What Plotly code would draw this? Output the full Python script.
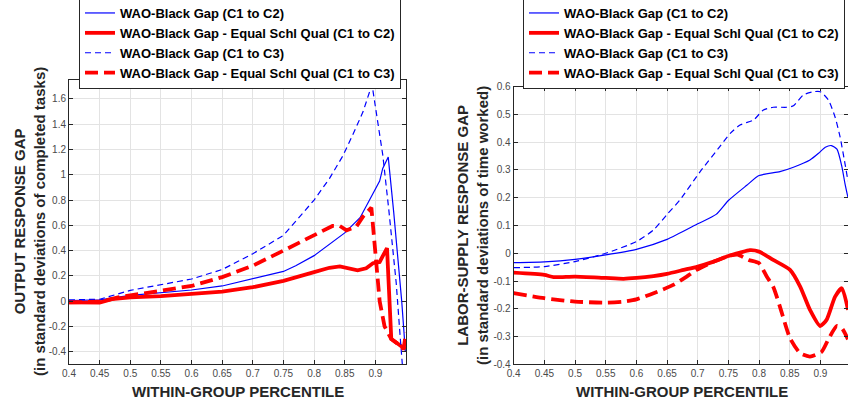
import plotly.graph_objects as go

# ---------------- data ----------------
names = ["WAO-Black Gap (C1 to C2)",
         "WAO-Black Gap - Equal Schl Qual (C1 to C2)",
         "WAO-Black Gap (C1 to C3)",
         "WAO-Black Gap - Equal Schl Qual (C1 to C3)"]

# Left panel: output response gap
out_c2_x = [0.40, 0.45, 0.50, 0.55, 0.60, 0.65, 0.70, 0.75, 0.77, 0.80, 0.85, 0.875, 0.897, 0.907, 0.912, 0.921, 0.930, 0.937, 0.943, 0.949]
out_c2_y = [0.005, 0.01, 0.045, 0.065, 0.088, 0.12, 0.175, 0.235, 0.28, 0.36, 0.54, 0.66, 0.86, 0.95, 1.05, 1.14, 0.70, 0.35, 0.0, -0.40]

out_eq_c2_x = [0.40, 0.43, 0.45, 0.47, 0.50, 0.55, 0.60, 0.65, 0.70, 0.75, 0.80, 0.825, 0.842, 0.855, 0.871, 0.885, 0.896, 0.907, 0.919, 0.926, 0.934, 0.942, 0.949]
out_eq_c2_y = [-0.01, -0.01, -0.012, 0.015, 0.03, 0.04, 0.055, 0.075, 0.11, 0.16, 0.23, 0.264, 0.275, 0.26, 0.243, 0.26, 0.30, 0.31, 0.42, -0.30, -0.33, -0.36, -0.38]

out_c3_x = [0.40, 0.45, 0.50, 0.55, 0.60, 0.65, 0.70, 0.75, 0.80, 0.825, 0.847, 0.8635, 0.88, 0.8945, 0.912, 0.922, 0.934, 0.940, 0.944]
out_c3_y = [0.01, 0.015, 0.085, 0.13, 0.175, 0.25, 0.375, 0.52, 0.80, 0.97, 1.15, 1.32, 1.50, 1.715, 1.16, 0.72, 0.145, -0.25, -0.50]

out_eq_c3_x = [0.40, 0.45, 0.48, 0.50, 0.55, 0.60, 0.65, 0.70, 0.75, 0.80, 0.83, 0.842, 0.853, 0.869, 0.88, 0.8935, 0.9016, 0.907, 0.915, 0.926, 0.94, 0.946, 0.95]
out_eq_c3_y = [-0.01, -0.005, 0.03, 0.045, 0.08, 0.12, 0.19, 0.28, 0.40, 0.52, 0.595, 0.595, 0.56, 0.59, 0.67, 0.74, 0.28, 0.0, -0.20, -0.30, -0.35, -0.38, -0.25]

# Right panel: labor-supply response gap
lab_c2_x = [0.40, 0.45, 0.50, 0.55, 0.60, 0.65, 0.70, 0.73, 0.75, 0.78, 0.80, 0.834, 0.856, 0.883, 0.897, 0.908, 0.918, 0.927, 0.935, 0.940, 0.945]
lab_c2_y = [-0.034, -0.031, -0.022, -0.006, 0.014, 0.05, 0.106, 0.14, 0.19, 0.245, 0.28, 0.294, 0.31, 0.336, 0.36, 0.382, 0.388, 0.375, 0.312, 0.252, 0.20]

lab_eq_c2_x = [0.40, 0.45, 0.465, 0.50, 0.55, 0.579, 0.60, 0.628, 0.65, 0.677, 0.70, 0.726, 0.75, 0.769, 0.785, 0.80, 0.823, 0.8505, 0.867, 0.883, 0.8995, 0.91, 0.924, 0.935, 0.945]
lab_eq_c2_y = [-0.07, -0.078, -0.086, -0.084, -0.089, -0.092, -0.089, -0.082, -0.074, -0.06, -0.048, -0.03, -0.01, 0.002, 0.011, 0.006, -0.024, -0.06, -0.12, -0.204, -0.262, -0.24, -0.156, -0.126, -0.204]

lab_c3_x = [0.40, 0.45, 0.50, 0.55, 0.60, 0.628, 0.65, 0.671, 0.704, 0.736, 0.753, 0.769, 0.791, 0.807, 0.823, 0.845, 0.856, 0.872, 0.889, 0.90, 0.913, 0.924, 0.932, 0.94, 0.945]
lab_c3_y = [-0.052, -0.048, -0.03, 0.0, 0.042, 0.084, 0.14, 0.192, 0.294, 0.384, 0.432, 0.462, 0.48, 0.516, 0.526, 0.526, 0.531, 0.57, 0.582, 0.582, 0.552, 0.49, 0.42, 0.324, 0.26]

lab_eq_c3_x = [0.40, 0.45, 0.50, 0.55, 0.579, 0.60, 0.628, 0.66, 0.682, 0.698, 0.72, 0.75, 0.765, 0.783, 0.80, 0.8125, 0.823, 0.834, 0.8505, 0.867, 0.883, 0.902, 0.913, 0.9267, 0.935, 0.945]
lab_eq_c3_y = [-0.144, -0.162, -0.174, -0.178, -0.174, -0.166, -0.144, -0.114, -0.084, -0.06, -0.036, -0.01, -0.005, -0.024, -0.036, -0.084, -0.12, -0.192, -0.306, -0.36, -0.372, -0.355, -0.31, -0.262, -0.27, -0.31]

x_ticks = [0.4, 0.45, 0.5, 0.55, 0.6, 0.65, 0.7, 0.75, 0.8, 0.85, 0.9]
x_tick_text = ["0.4", "0.45", "0.5", "0.55", "0.6", "0.65", "0.7", "0.75", "0.8", "0.85", "0.9"]
left_y_ticks = [-0.4, -0.2, 0, 0.2, 0.4, 0.6, 0.8, 1.0, 1.2, 1.4, 1.6]
left_y_text = ["-0.4", "-0.2", "0", "0.2", "0.4", "0.6", "0.8", "1", "1.2", "1.4", "1.6"]
right_y_ticks = [-0.4, -0.3, -0.2, -0.1, 0, 0.1, 0.2, 0.3, 0.4, 0.5, 0.6]
right_y_text = ["-0.4", "-0.3", "-0.2", "-0.1", "0", "0.1", "0.2", "0.3", "0.4", "0.5", "0.6"]

left_title = "OUTPUT RESPONSE GAP<br>(in standard deviations of completed tasks)"
right_title = "LABOR-SUPPLY RESPONSE GAP<br>(in standard deviations of time worked)"
x_title = "WITHIN-GROUP PERCENTILE"

# ---------------- styling ----------------
W, H = 848, 404
FONT = "Liberation Sans, Arial, Helvetica, sans-serif"
styles = [dict(color="#0000ff", width=1.2, dash="solid"),
          dict(color="#ff0000", width=3.8, dash="solid"),
          dict(color="#0000ff", width=1.2, dash="6px,4px"),
          dict(color="#ff0000", width=3.8, dash="13px,6px")]

fig = go.Figure()

left_series = [(out_c2_x, out_c2_y), (out_eq_c2_x, out_eq_c2_y), (out_c3_x, out_c3_y), (out_eq_c3_x, out_eq_c3_y)]
right_series = [(lab_c2_x, lab_c2_y), (lab_eq_c2_x, lab_eq_c2_y), (lab_c3_x, lab_c3_y), (lab_eq_c3_x, lab_eq_c3_y)]

for i, (xs, ys) in enumerate(left_series):
    fig.add_trace(go.Scatter(x=xs, y=ys, mode="lines", name=names[i], line=styles[i],
                             xaxis="x", yaxis="y", legend="legend"))
for i, (xs, ys) in enumerate(right_series):
    fig.add_trace(go.Scatter(x=xs, y=ys, mode="lines", name=names[i],
                             line=dict(**styles[i], shape="spline", smoothing=0.6),
                             xaxis="x2", yaxis="y2", legend="legend2"))

def px_x(p):
    return p / W

def px_y(p):
    return 1 - p / H

axis_common = dict(showline=True, linecolor="#262626", linewidth=1, mirror="ticks",
                   ticks="inside", ticklen=4, tickcolor="#262626", tickwidth=1,
                   showgrid=True, gridcolor="#e3e3e3", gridwidth=1, zeroline=False,
                   tickfont=dict(family=FONT, size=10, color="#4a4a4a"))

legend_common = dict(xanchor="left", yanchor="top", y=px_y(-3),
                     bgcolor="white", bordercolor="#262626", borderwidth=1,
                     font=dict(family=FONT, size=13, color="black", weight="bold"),
                     itemwidth=30, tracegroupgap=0)

fig.update_layout(
    width=W, height=H, margin=dict(l=0, r=0, t=0, b=0, autoexpand=False),
    paper_bgcolor="white", plot_bgcolor="white",
    xaxis=dict(domain=[px_x(69), px_x(406)], range=[0.4, 0.95], anchor="y",
               tickvals=x_ticks, ticktext=x_tick_text, **axis_common),
    yaxis=dict(domain=[px_y(364.3), px_y(80)], range=[-0.5, 1.75], anchor="x",
               tickvals=left_y_ticks, ticktext=left_y_text, **axis_common),
    xaxis2=dict(domain=[px_x(513.7), 1.0], range=[0.4, 0.945], anchor="y2",
                tickvals=x_ticks, ticktext=x_tick_text, **axis_common),
    yaxis2=dict(domain=[px_y(364.3), px_y(86.7)], range=[-0.4, 0.6], anchor="x2",
                tickvals=right_y_ticks, ticktext=right_y_text, **axis_common),
    legend=dict(x=px_x(79), **legend_common),
    legend2=dict(x=px_x(523), **legend_common),
    showlegend=True,
)

title_font = dict(family=FONT, size=15, color="#262626", weight="bold")
fig.add_annotation(text=left_title, x=px_x(29), y=px_y(222), xref="paper", yref="paper",
                   textangle=-90, showarrow=False, xanchor="center", yanchor="middle", font=title_font)
fig.add_annotation(text=right_title, x=px_x(472.5), y=px_y(225.5), xref="paper", yref="paper",
                   textangle=-90, showarrow=False, xanchor="center", yanchor="middle", font=title_font)
fig.add_annotation(text=x_title, x=px_x(237.5), y=px_y(391.7), xref="paper", yref="paper",
                   showarrow=False, xanchor="center", yanchor="middle", font=title_font)
fig.add_annotation(text=x_title, x=px_x(682), y=px_y(391.7), xref="paper", yref="paper",
                   showarrow=False, xanchor="center", yanchor="middle", font=title_font)

fig.write_html("out.html",
               config={"displayModeBar": False, "staticPlot": False},
               post_script="document.body.style.margin='0';document.body.style.overflow='hidden';")
